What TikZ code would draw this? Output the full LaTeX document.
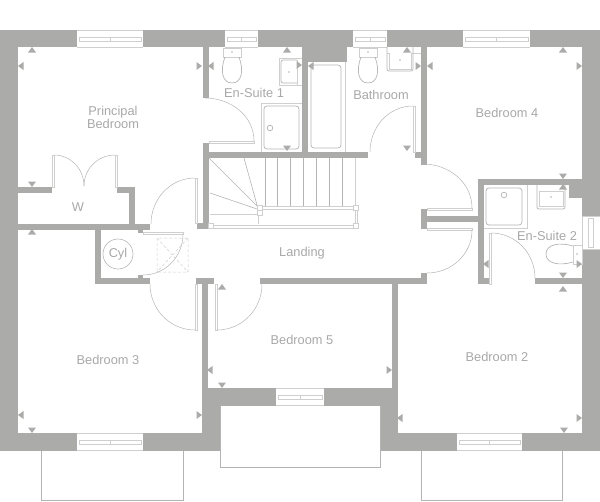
\documentclass[tikz,border=0pt]{standalone}
\usepackage{fontspec}
\setmainfont{Liberation Sans}
\definecolor{wallgrey}{HTML}{ABABAA}
\definecolor{linegrey}{HTML}{B4B4B4}
\definecolor{framegrey}{HTML}{CFCFCF}
\definecolor{labelgrey}{HTML}{A8A8A8}
\tikzset{
  wall/.style={fill=wallgrey,draw=none},
  frame/.style={draw=framegrey,line width=.8pt,fill=white},
  fitting/.style={draw=linegrey,line width=.7pt},
  swing/.style={draw=linegrey,line width=.5pt},
  hatch/.style={draw=framegrey,line width=.5pt,densely dashed},
  roomlabel/.style={text=labelgrey,font=\fontsize{12.8}{13.5}\selectfont,align=center,inner sep=0pt}
}
\begin{document}
\begin{tikzpicture}[x=1pt,y=-1pt]
\useasboundingbox (0,0) rectangle (600,501);
% walls
\foreach \xa/\ya/\xb/\yb in {0/30/600/47, 0/30/18/451, 582/30/600/451, 0/433/220/451, 380/433/600/451,
  202/388/220/451, 202/388/398/406, 380/388/398/451, 203/47/209/98, 203/143/209/229, 197/223/209/229,
  203/152/368/158, 302/47/308/152, 302/47/347/62, 421/47/427/165, 415/152/427/158,
  421/209/427/229, 421/216/484/222, 478/179/582/185, 478/179/484/284, 478/278/489/284, 569/185/582/198,
  535/278/582/284, 421/273/427/284, 260/278/427/284, 196/278/214/284, 202/278/208/388, 392/278/398/388,
  18/224/150/230, 95/224/101/284, 95/278/150/284, 138/230/143/233, 138/275/143/278,
  129/187/135/224, 18/187/52/193, 117/187/135/193}
  \fill[wall] (\xa,\ya) rectangle (\xb,\yb);
% windows
\foreach \xa/\xb/\ya in {77/143/30, 225/258/30, 353/387/30, 463/530/30, 77/143/433, 457/522/433, 276/324/388} {
  \fill[white] (\xa,\ya) rectangle (\xb,\ya+17.5);
  \draw[frame,fill=none] (\xa,\ya) -- (\xb,\ya) (\xa,\ya+17.5) -- (\xb,\ya+17.5);
  \draw[frame,line width=.6pt] (\xa+2,\ya+7) rectangle (\xb-2,\ya+11);
  \draw[frame,line width=.6pt] ({(\xa+\xb)/2},\ya+7) -- ({(\xa+\xb)/2},\ya+11);
}
\fill[white] (582,216) rectangle (600,249);
\draw[frame,fill=none] (582,216) -- (582,249) (600,216) -- (600,249) (582,216) -- (600,216) (582,249) -- (600,249);
\draw[frame,line width=.6pt] (588,218) rectangle (593,247);
% bays and porch
\draw[fitting] (41,451) -- (41,500) -- (183,500) -- (183,451);
\draw[fitting] (421,451) -- (421,500) -- (562,500) -- (562,451);
\draw[fitting] (220,406) -- (220,467) -- (380,467) -- (380,406);
% doors
\foreach \xa/\ya/\xb/\yb in {209/141/254/143, 413/106/415/152, 195/178/197/223, 143/232/183/234, 195/284/197/330,
  215/284/217/330, 427/208/472/210, 427/228/472/230, 489/233/491/284, 52/155/54/187, 115/155/117/187}
  \draw[frame] (\xa,\ya) rectangle (\xb,\yb);
\draw[swing] (205,98) to[out=0,in=90] (254,141);
\draw[swing] (413,106) to[out=180,in=90] (370,152);
\draw[swing] (195,178) to[out=180,in=90] (151,224);
\draw[swing] (183,234) to[out=-90,in=0] (143,275);
\draw[swing] (150,284) to[out=-90,in=180] (195,330);
\draw[swing] (217,330) to[out=0,in=-90] (262,284);
\draw[swing] (423,164) to[out=0,in=90] (472,208);
\draw[swing] (472,230) to[out=-90,in=0] (427,273);
\draw[swing] (491,233) to[out=0,in=90] (535,278);
\draw[swing] (54,155) to[out=0,in=90] (84,186);
\draw[swing] (115,155) to[out=180,in=90] (84,186);
% stairs
\foreach \xa in {265,277.7,290.7,303.3,316.3,329.3,342.3}
  \draw[fitting] (\xa,158) -- (\xa,206);
\draw[frame] (355,158) -- (355,205);
\draw[fitting,line width=.6pt] (209,158) -- (257,206) (244,158) -- (257,205) (210,193) -- (257,209);
\draw[frame] (210,214) -- (257,214) (258,215) -- (258,224);
\draw[frame] (262,206.5) rectangle (353,209.5);
\draw[frame] (212,225) rectangle (353,228);
\draw[frame] (355,210) rectangle (357,223);
\foreach \xa/\ya in {257/205, 257/210, 353.5/205, 353.5/223, 208/223}
  \draw[frame] (\xa,\ya) rectangle +(5,5.5);
% fittings
\foreach \xa in {223,359} {
  \draw[frame] (\xa,48) rectangle (\xa+18,57);
  \draw[fitting] (\xa+2,57) .. controls (\xa-3,70) and (\xa-1,83) .. (\xa+9,83) .. controls (\xa+19,83) and (\xa+21,70) .. (\xa+16,57);
  \fill[linegrey] (\xa+9,52) circle (.9);
}
\draw[frame] (302,58) -- (279,58) -- (279,85) -- (302,85);
\draw[fitting,rounded corners=2pt] (297,60) -- (281,60) -- (281,83) -- (297,83);
\draw[frame] (297,60) -- (297,85);
\fill[linegrey] (289,72) circle (.9);
\draw[frame] (261,152) -- (261,103) -- (302,103);
\draw[fitting,rounded corners=3pt] (264,106) rectangle (299,149);
\draw[fitting] (270,128) circle (2.8);
\draw[frame] (345,62) -- (345,152);
\draw[fitting,rounded corners=3pt] (311,65) rectangle (341,148);
\draw[frame] (387,53) -- (421,53);
\draw[fitting,rounded corners=2pt] (387,47) -- (387,71) -- (413,71) -- (413,47);
\draw[frame] (389,53) -- (389,69) -- (411,69) -- (411,53);
\fill[linegrey] (400,60) circle (.9);
\draw[frame] (484,228) -- (527,228) -- (527,185);
\draw[fitting,rounded corners=3pt] (486,188) rectangle (522,225);
\draw[fitting] (504,195) circle (2.8);
\draw[fitting,rounded corners=2pt] (537,185) -- (537,209) -- (565,209) -- (565,185);
\draw[frame] (539,191) -- (539,206) -- (563,206) -- (563,191) -- cycle;
\fill[linegrey] (551,197) circle (.9);
\draw[frame] (573,245) rectangle (582,264);
\fill[linegrey] (577,254) circle (.9);
\draw[fitting] (573,246) .. controls (560,242) and (546,244) .. (546,254) .. controls (546,264) and (560,266) .. (573,262);
% cylinder and hatch
\node[draw=linegrey,line width=.6pt,circle,minimum size=30pt,inner sep=0pt,roomlabel] (cyl) at (118,254) {Cyl};
\draw[hatch] (157,238) rectangle (188,272) (157,238) -- (188,272) (188,238) -- (157,272);
% dimension marks
\foreach \tx/\ty/\dx/\dy in {32/50/0/-1, 287/50/0/-1, 407/50/0/-1, 563/50/0/-1, 32/232/0/-1, 222/287/0/-1, 563/187/0/-1, 563/289/0/-1,
  32/184/0/1, 287/148/0/1, 407/148/0/1, 222/385/0/1, 32/430/0/1, 564/430/0/1, 563/176/0/1, 563/275/0/1,
  21/66/-1/0, 211/66/-1/0, 311/66/-1/0, 430/66/-1/0, 21/415/-1/0, 210/370/-1/0, 400/418/-1/0, 486/264/-1/0,
  199/66/1/0, 299/65/1/0, 418/66/1/0, 579/66/1/0, 199/415/1/0, 389/370/1/0, 579/418/1/0, 579/264/1/0}
  \fill[wallgrey] ({\tx+3*\dx},{\ty+3*\dy}) -- ({\tx-2.5*\dx+4*\dy},{\ty-2.5*\dy+4*\dx}) -- ({\tx-2.5*\dx-4*\dy},{\ty-2.5*\dy-4*\dx}) -- cycle;
% rooms
\node[roomlabel] (principal) at (113,117.5) {Principal\\Bedroom};
\node[roomlabel] (robe) at (78,207) {W};
\node[roomlabel] (ensuite1) at (254,93) {En-Suite 1};
\node[roomlabel] (bathroom) at (381,95) {Bathroom};
\node[roomlabel] (bedroom4) at (507,113) {Bedroom 4};
\node[roomlabel] (landing) at (302,253) {Landing};
\node[roomlabel] (ensuite2) at (547,236) {En-Suite 2};
\node[roomlabel] (bedroom3) at (108,360) {Bedroom 3};
\node[roomlabel] (bedroom5) at (302,340) {Bedroom 5};
\node[roomlabel] (bedroom2) at (497,357) {Bedroom 2};
\end{tikzpicture}
\end{document}
